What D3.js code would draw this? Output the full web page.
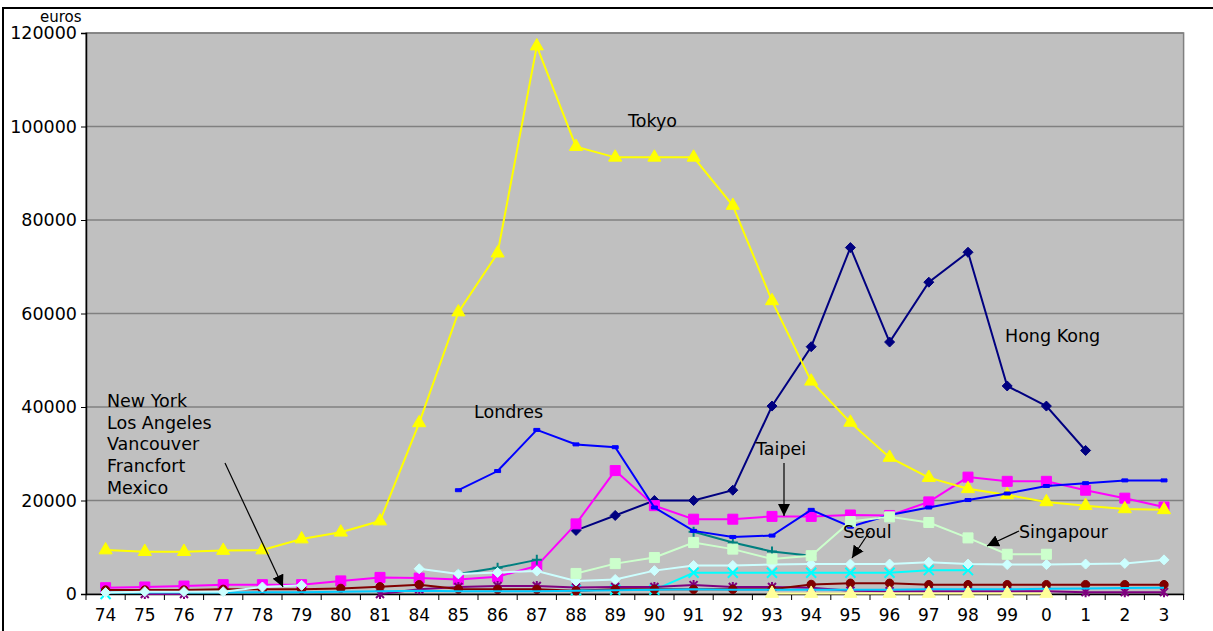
<!DOCTYPE html>
<html><head><meta charset="utf-8">
<script src="https://cdn.jsdelivr.net/npm/d3@7"></script>
<style>
html,body{margin:0;padding:0;background:#fff;}
svg{display:block;font-family:"DejaVu Sans",Verdana,sans-serif;}
</style></head>
<body><svg id="c" width="1213" height="631"></svg>
<script>
const categories = ["74","75","76","77","78","79","80","81","84","85","86","87","88","89","90","91","92","93","94","95","96","97","98","99","0","1","2","3"];
const yTicks = [0,20000,40000,60000,80000,100000,120000];
const _ = null;

const hongKong   = [_,_,_,_,_,_,_,_,_,_,_,_,13600,16800,20000,20000,22200,40200,52900,74100,53900,66700,73100,44500,40200,30700,_,_];
const taipei     = [1350,1500,1700,2000,2000,2000,2800,3550,3400,3100,3700,6000,15000,26400,18900,16000,16000,16600,16600,16900,16800,19700,25000,24100,24100,22200,20500,18600];
const tokyo      = [9400,9050,9050,9300,9400,11750,13200,15600,36600,60300,72900,117200,95700,93400,93400,93400,83100,62700,45500,36700,29200,24900,22500,21200,19700,18900,18200,18000];
const newYork    = [0,_,_,_,_,_,_,_,_,_,_,_,800,900,900,4550,4550,4550,4550,4550,4550,5100,5100,_,_,_,_,_];
const losAngeles = [_,0,0,_,_,_,_,0,1000,1500,1700,1700,1400,1500,1500,1900,1500,1500,1350,700,600,600,600,600,600,400,400,400];
const vancouver  = [850,850,850,1000,1000,1000,1200,1550,2000,1050,1000,1000,700,1000,1000,1000,1000,1000,2050,2300,2300,2000,2000,2000,2000,2000,2000,2000];
const paris      = [_,_,_,_,_,_,_,_,_,4300,5600,7300,_,_,_,13300,11000,9100,8200,_,_,_,_,_,_,_,_,_];
const londres    = [_,_,_,_,_,_,_,_,_,22200,26300,35100,32000,31400,18500,13500,12200,12500,18000,14400,16900,18500,20100,21500,23100,23700,24300,24300];
const francfort  = [300,300,300,300,400,400,500,600,700,600,600,600,700,800,900,1000,900,900,900,900,900,1000,1000,1000,1100,1200,1300,1350];
const seoul      = [300,500,500,500,1500,1850,_,_,5400,4300,4600,4900,2800,3100,5000,6100,6100,6300,6400,6400,6400,6800,6400,6300,6300,6400,6550,7300];
const singapour  = [_,_,_,_,_,_,_,_,_,_,_,_,4400,6500,7800,11000,9600,7500,8200,15500,16500,15300,12000,8500,8500,_,_,_];
const mexico     = [_,_,_,_,_,_,_,_,_,_,_,_,_,_,_,_,_,100,100,100,100,100,100,100,100,_,_,_];

const series = [
  {name:"Hong Kong", values:hongKong,   color:"#000080", marker:"diamond"},
  {name:"Taipei",    values:taipei,     color:"#FF00FF", marker:"square"},
  {name:"Tokyo",     values:tokyo,      color:"#FFFF00", marker:"triangle"},
  {name:"New York",  values:newYork,    color:"#00FFFF", marker:"x"},
  {name:"Los Angeles",values:losAngeles,color:"#800080", marker:"star"},
  {name:"Vancouver", values:vancouver,  color:"#800000", marker:"circle"},
  {name:"Paris",     values:paris,      color:"#008080", marker:"plus"},
  {name:"Londres",   values:londres,    color:"#0000FF", marker:"dash"},
  {name:"Francfort", values:francfort,  color:"#00CCFF", marker:"none"},
  {name:"Seoul",     values:seoul,      color:"#CCFFFF", marker:"diamond"},
  {name:"Singapour", values:singapour,  color:"#CCFFCC", marker:"square"},
  {name:"Mexico",    values:mexico,     color:"#FFFF99", marker:"triangle"}
];

const svg = d3.select("#c");
const L = 86, R = 1183.6, T = 33, B = 594;

// outer chart border (extends beyond the visible frame on right and bottom)
svg.append("rect").attr("x",3).attr("y",8).attr("width",1260).attr("height",680)
  .attr("fill","#fff").attr("stroke","#000").attr("stroke-width",2);

const x = d3.scaleBand().domain(categories).range([L,R]).padding(0);
const y = d3.scaleLinear().domain([0,120000]).range([B,T]);
const cx = c => x(c) + x.bandwidth()/2;

svg.append("rect").attr("x",L).attr("y",T).attr("width",R-L).attr("height",B-T)
  .attr("fill","#C0C0C0").attr("stroke","#808080").attr("stroke-width",1.5);

// gridlines
svg.append("g").selectAll("line").data(yTicks.filter(d=>d>0)).join("line")
  .attr("x1",L).attr("x2",R).attr("y1",d=>y(d)).attr("y2",d=>y(d))
  .attr("stroke","#808080").attr("stroke-width",1.5);

// axes
const yAxis = d3.axisLeft(y).tickValues(yTicks).tickSize(5).tickFormat(d3.format("d"));
const gy = svg.append("g").attr("transform",`translate(${L},0)`).call(yAxis);
gy.select(".domain").attr("stroke","#000").attr("stroke-width",1.5);
gy.selectAll(".tick line").attr("stroke","#000");
gy.selectAll(".tick text").attr("font-size",17.5).attr("fill","#000").attr("font-family","DejaVu Sans").attr("x",-9);

const xAxis = d3.axisBottom(x).tickSize(0);
const gx = svg.append("g").attr("transform",`translate(0,${B})`).call(xAxis);
gx.select(".domain").attr("stroke","#000").attr("stroke-width",1.5);
gx.selectAll(".tick text").attr("font-size",17).attr("fill","#000").attr("font-family","DejaVu Sans").attr("y",15);
// tick marks at category boundaries
svg.append("g").selectAll("line").data(categories.concat(["__end"])).join("line")
  .attr("x1",(d,i)=> i<categories.length ? x(d) : R).attr("x2",(d,i)=> i<categories.length ? x(d) : R)
  .attr("y1",B).attr("y2",B+6).attr("stroke","#000").attr("stroke-width",1);

svg.append("text").attr("x",40).attr("y",22).attr("font-size",15).text("euros");

// series
const line = d3.line().defined(d=>d.v!=null).x(d=>cx(d.c)).y(d=>y(d.v));
const markerPath = {
  diamond: "M0,-5L5,0L0,5L-5,0Z",
  square: d3.symbol(d3.symbolSquare, 100)(),
  triangle: d3.symbol(d3.symbolTriangle, 75)(),
  circle: d3.symbol(d3.symbolCircle, 55)(),
  plus: "M-5,0H5M0,-5V5",
  x: "M-5,-5L5,5M-5,5L5,-5",
  star: "M-4,-4L4,4M-4,4L4,-4M0,-5V5",
  dash: "M-3,-1.5H3V1.5H-3Z"
};
series.forEach(s=>{
  const pts = s.values.map((v,i)=>({c:categories[i],v}));
  const g = svg.append("g");
  g.append("path").attr("d",line(pts)).attr("fill","none").attr("stroke",s.color).attr("stroke-width",2);
  if (s.marker==="none") return;
  const stroked = ["plus","x","star"].includes(s.marker);
  g.selectAll("path.m").data(pts.filter(p=>p.v!=null)).join("path").attr("class","m")
    .attr("transform",p=>`translate(${cx(p.c)},${y(p.v)})`)
    .attr("d",markerPath[s.marker])
    .attr("fill",stroked?"none":s.color)
    .attr("stroke",s.color).attr("stroke-width",stroked?2:1);
});

// annotations
const ann = svg.append("g").attr("font-size",17.5).attr("fill","#000");
ann.append("text").attr("x",628).attr("y",127).text("Tokyo");
ann.append("text").attr("x",1005).attr("y",342).text("Hong Kong");
ann.append("text").attr("x",474).attr("y",418).text("Londres");
ann.append("text").attr("x",756).attr("y",455).text("Taipei");
ann.append("text").attr("x",843).attr("y",538).text("Seoul");
ann.append("text").attr("x",1019).attr("y",538).text("Singapour");
const ny = ["New York","Los Angeles","Vancouver","Francfort","Mexico"];
ann.selectAll("text.ny").data(ny).join("text").attr("class","ny")
  .attr("x",107).attr("y",(d,i)=>407+i*21.7).text(d=>d);

svg.append("defs").append("marker").attr("id","ah").attr("viewBox","0 0 10 10")
  .attr("refX",10).attr("refY",5).attr("markerWidth",12).attr("markerHeight",12)
  .attr("markerUnits","userSpaceOnUse").attr("orient","auto")
  .append("path").attr("d","M0,0L10,5L0,10Z").attr("fill","#000");
const arrows = [[225,463,283,587],[784,463,784,516],[870,531,852,558],[1019,531,987,546]];
svg.append("g").selectAll("line").data(arrows).join("line")
  .attr("x1",d=>d[0]).attr("y1",d=>d[1]).attr("x2",d=>d[2]).attr("y2",d=>d[3])
  .attr("stroke","#000").attr("stroke-width",1.2).attr("marker-end","url(#ah)");
</script></body></html>
